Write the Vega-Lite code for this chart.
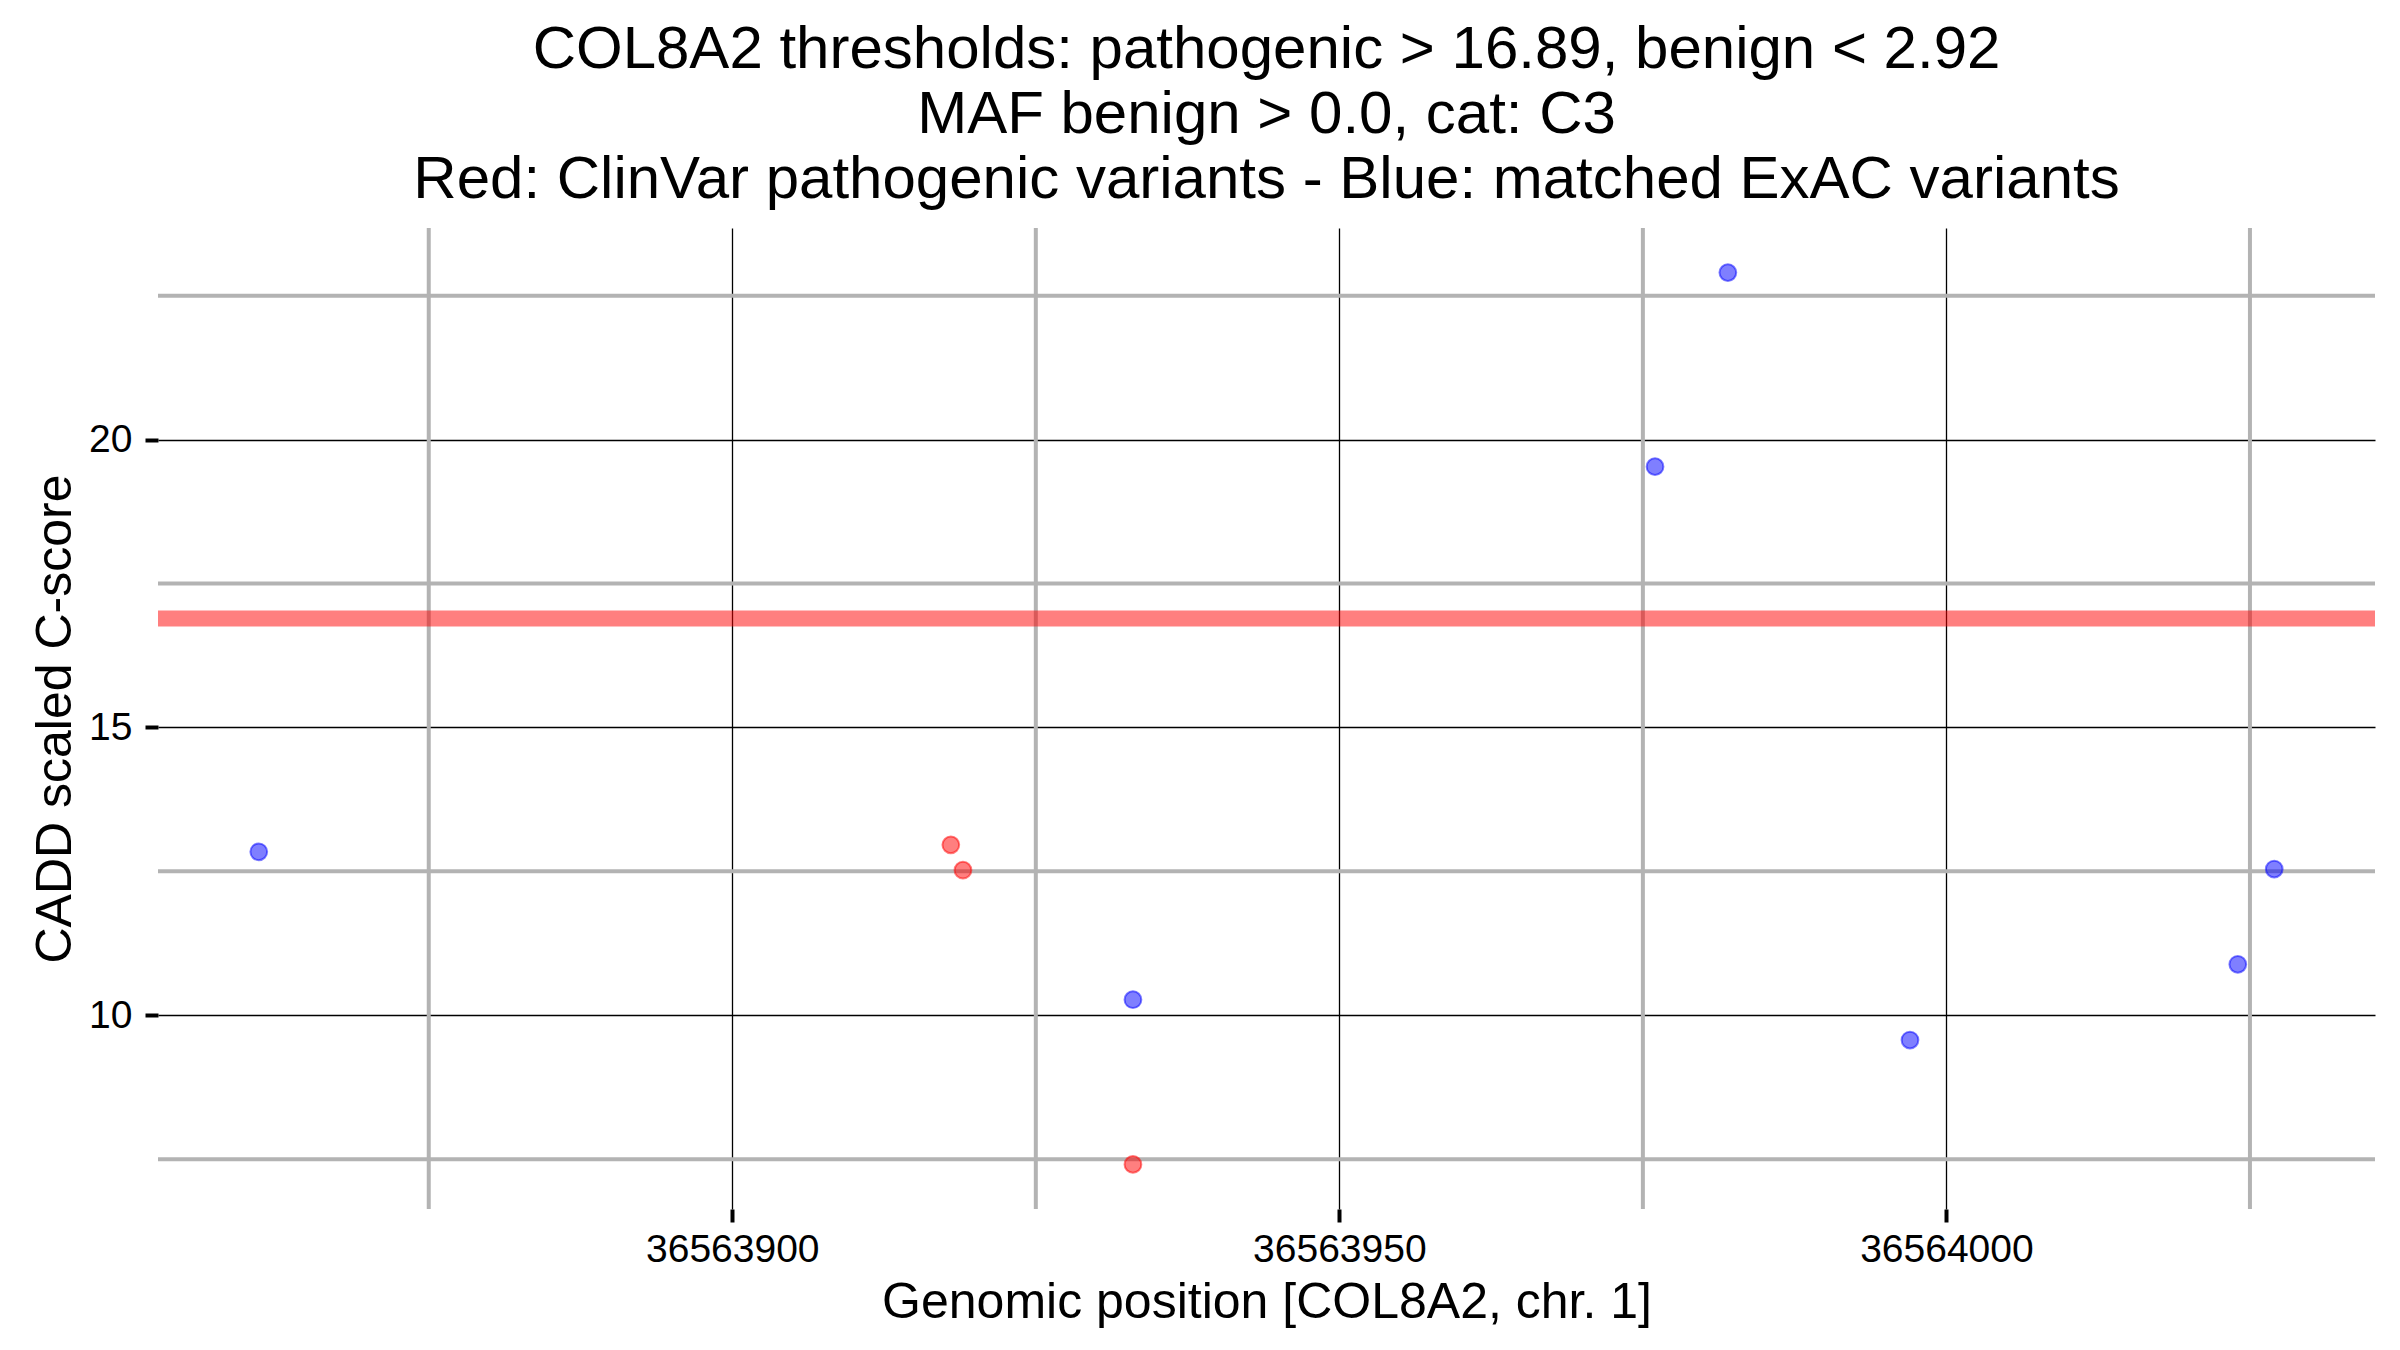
{
  "$schema": "https://vega.github.io/schema/vega-lite/v6.json",
  "width": 2217,
  "height": 981,
  "autosize": {"type": "none"},
  "padding": {"left": 158, "top": 228, "right": 25, "bottom": 141},
  "background": "white",
  "title": {
    "text": ["COL8A2 thresholds: pathogenic > 16.89, benign < 2.92", "MAF benign > 0.0, cat: C3", "Red: ClinVar pathogenic variants - Blue: matched ExAC variants"],
    "fontSize": 60,
    "font": "Liberation Sans",
    "fontWeight": "normal",
    "color": "black",
    "lineHeight": 65,
    "anchor": "middle",
    "offset": 15
  },
  "config": {"view": {"stroke": null}, "font": "Liberation Sans"},
  "datasets": {
    "variants": [
      {"pos": 36563861, "score": 12.84, "group": "ExAC"},
      {"pos": 36563933, "score": 10.27, "group": "ExAC"},
      {"pos": 36563976, "score": 19.53, "group": "ExAC"},
      {"pos": 36563982, "score": 22.90, "group": "ExAC"},
      {"pos": 36563997, "score": 9.57, "group": "ExAC"},
      {"pos": 36564024, "score": 10.885, "group": "ExAC"},
      {"pos": 36564027, "score": 12.54, "group": "ExAC"},
      {"pos": 36563918, "score": 12.96, "group": "ClinVar"},
      {"pos": 36563919, "score": 12.52, "group": "ClinVar"},
      {"pos": 36563933, "score": 7.41, "group": "ClinVar"}
    ],
    "minorx": [{"pos": 36563875}, {"pos": 36563925}, {"pos": 36563975}, {"pos": 36564025}],
    "minory": [{"score": 7.5}, {"score": 12.5}, {"score": 17.5}, {"score": 22.5}],
    "threshold": [{"score": 16.89}]
  },
  "layer": [
    {
      "data": {"name": "minorx"},
      "mark": {"type": "rule", "color": "#B3B3B3", "strokeWidth": 4},
      "encoding": {
        "x": {
          "field": "pos", "type": "quantitative",
          "scale": {"domain": [36563852.7, 36564035.3], "nice": false, "zero": false},
          "axis": {
            "title": "Genomic position [COL8A2, chr. 1]",
            "values": [36563900, 36563950, 36564000],
            "format": "d",
            "grid": true, "gridColor": "black", "gridWidth": 1.3,
            "domain": false,
            "ticks": true, "tickColor": "black", "tickWidth": 4, "tickSize": 13,
            "labelFont": "Liberation Sans", "labelFontSize": 39, "labelColor": "black", "labelPadding": 8,
            "titleFont": "Liberation Sans", "titleFontSize": 50, "titleFontWeight": "normal", "titleColor": "black", "titlePadding": 8
          }
        }
      }
    },
    {
      "data": {"name": "minory"},
      "mark": {"type": "rule", "color": "#B3B3B3", "strokeWidth": 4},
      "encoding": {
        "y": {
          "field": "score", "type": "quantitative",
          "scale": {"domain": [6.635, 23.675], "nice": false, "zero": false},
          "axis": {
            "title": "CADD scaled C-score",
            "values": [10, 15, 20],
            "format": "d",
            "grid": true, "gridColor": "black", "gridWidth": 1.3,
            "domain": false,
            "ticks": true, "tickColor": "black", "tickWidth": 4, "tickSize": 13,
            "labelFont": "Liberation Sans", "labelFontSize": 39, "labelColor": "black", "labelPadding": 13,
            "titleFont": "Liberation Sans", "titleFontSize": 50, "titleFontWeight": "normal", "titleColor": "black", "titlePadding": 8
          }
        }
      }
    },
    {
      "data": {"name": "threshold"},
      "mark": {"type": "rule", "color": "#FF0000", "opacity": 0.5, "strokeWidth": 16},
      "encoding": {
        "y": {"field": "score", "type": "quantitative", "scale": {"domain": [6.635, 23.675], "nice": false, "zero": false}}
      }
    },
    {
      "data": {"name": "variants"},
      "mark": {"type": "point", "filled": false, "shape": "circle", "size": 280, "fillOpacity": 0.5, "strokeOpacity": 0.5, "strokeWidth": 2},
      "encoding": {
        "x": {"field": "pos", "type": "quantitative", "scale": {"domain": [36563852.7, 36564035.3], "nice": false, "zero": false}},
        "y": {"field": "score", "type": "quantitative", "scale": {"domain": [6.635, 23.675], "nice": false, "zero": false}},
        "fill": {"field": "group", "type": "nominal", "scale": {"domain": ["ClinVar", "ExAC"], "range": ["#FF0000", "#0000FF"]}, "legend": null},
        "stroke": {"field": "group", "type": "nominal", "scale": {"domain": ["ClinVar", "ExAC"], "range": ["#FF0000", "#0000FF"]}, "legend": null}
      }
    }
  ]
}
